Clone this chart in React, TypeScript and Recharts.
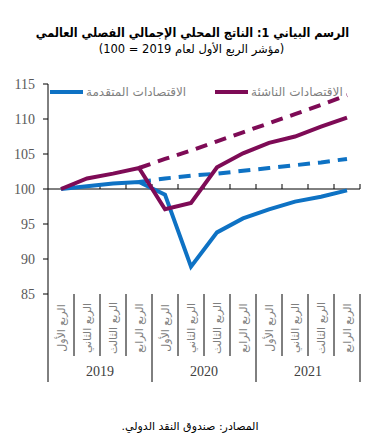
import React from 'react';
import { LineChart, Line, XAxis, YAxis, ReferenceLine } from 'recharts';

const years = ['2019', '2020', '2021'];
const quarters = ['الربع الأول', 'الربع الثاني', 'الربع الثالث', 'الربع الرابع'];
const advanced = [100, 100.4, 100.8, 101.0, 99.2, 88.9, 93.8, 95.8, 97.1, 98.2, 98.9, 99.8];
const emerging = [100, 101.5, 102.2, 103.0, 97.1, 98.0, 103.1, 105.1, 106.6, 107.5, 108.9, 110.2];
const advancedPre = [null, null, null, 101.0, 101.5, 101.9, 102.2, 102.6, 103.0, 103.4, 103.8, 104.3];
const emergingPre = [null, null, null, 103.0, 104.3, 105.5, 106.8, 108.1, 109.4, 110.7, 112.0, 113.4];
const yTicks = [85, 90, 95, 100, 105, 110, 115];

const title = 'الرسم البياني 1: الناتج المحلي الإجمالي الفصلي العالمي';
const subtitle = '(مؤشر الربع الأول لعام 2019 = 100)';
const legendAdvanced = 'الاقتصادات المتقدمة';
const legendEmerging = 'الاقتصادات الناشئة';
const source = 'المصادر: صندوق النقد الدولي.';

const BLUE = '#0E72C4';
const PURPLE = '#7E0B56';
const PAD = 13;

const data = advanced.map((v, i) => ({
  cat: `${years[Math.floor(i / 4)]}-${i % 4}`,
  quarter: quarters[i % 4],
  year: years[Math.floor(i / 4)],
  advanced: v,
  emerging: emerging[i],
  advancedPre: advancedPre[i],
  emergingPre: emergingPre[i],
}));

const QuarterTick = (props: any) => {
  const { x, y, index } = props;
  const row = data[index];
  if (!row) return null;
  const q = index % 4;
  return (
    <g>
      {index === 0 && <line x1={x - PAD} x2={x - PAD} y1={y} y2={y + 88} stroke="#000" strokeWidth={1} />}
      <line x1={x + PAD} x2={x + PAD} y1={y} y2={y + (q === 3 ? 88 : 62)} stroke="#000" strokeWidth={1} />
      <text
        x={x}
        y={y + 34}
        transform={`rotate(-90 ${x} ${y + 34})`}
        textAnchor="middle"
        dominantBaseline="central"
        fontSize={11}
        fill="#7f7f7f"
        fontFamily="DejaVu Sans"
      >
        {row.quarter}
      </text>
      {q === 1 && (
        <text x={x + PAD} y={y + 82} textAnchor="middle" fontSize={14} fill="#404040" fontFamily="Liberation Serif">
          {row.year}
        </text>
      )}
    </g>
  );
};

const AxisAt100 = (props: any) => {
  const { x1, x2, y1 } = props;
  const n = data.length;
  const step = (x2 - x1) / n;
  const ticks = [];
  for (let i = 1; i <= n; i++) {
    ticks.push(<line key={i} x1={x1 + step * i} x2={x1 + step * i} y1={y1} y2={y1 - 5} stroke="#000" strokeWidth={1} />);
  }
  return (
    <g>
      <line x1={x1} x2={x2} y1={y1} y2={y1} stroke="#000" strokeWidth={1} />
      {ticks}
    </g>
  );
};

export default function App() {
  return (
    <div style={{ position: 'absolute', left: 0, top: 0, width: 375, height: 448, background: '#fff' }}>
      <div
        style={{
          position: 'absolute', left: 0, top: 25, width: 385, textAlign: 'center', whiteSpace: 'nowrap',
          fontFamily: '"DejaVu Sans Condensed", "DejaVu Sans"', fontWeight: 'bold', fontSize: 12.5, color: '#000', direction: 'rtl',
        }}
      >
        {title}
      </div>
      <div
        style={{
          position: 'absolute', left: 0, top: 42, width: 383, textAlign: 'center', whiteSpace: 'nowrap',
          fontFamily: 'DejaVu Sans', fontSize: 11.5, color: '#000', direction: 'rtl',
        }}
      >
        {subtitle}
      </div>
      <LineChart
        width={375}
        height={448}
        data={data}
        margin={{ top: 84, right: 15, bottom: 54, left: 8 }}
        style={{ position: 'absolute', left: 0, top: 0 }}
      >
        <YAxis
          width={40}
          domain={[85, 115]}
          ticks={yTicks}
          interval={0}
          tickSize={5}
          tickMargin={8}
          axisLine={{ stroke: '#000' }}
          tickLine={{ stroke: '#000' }}
          tick={{ fontSize: 14, fill: '#595959', fontFamily: 'Liberation Serif' }}
        />
        <XAxis
          dataKey="cat"
          height={100}
          padding={{ left: PAD, right: PAD }}
          interval={0}
          tickSize={0}
          tickMargin={0}
          axisLine={false}
          tickLine={false}
          tick={<QuarterTick />}
        />
        <ReferenceLine y={100} shape={<AxisAt100 />} />
        <Line dataKey="advancedPre" stroke={BLUE} strokeWidth={4} strokeDasharray="12 8" dot={false} isAnimationActive={false} connectNulls={false} />
        <Line dataKey="emergingPre" stroke={PURPLE} strokeWidth={4} strokeDasharray="12 8" dot={false} isAnimationActive={false} connectNulls={false} />
        <Line dataKey="advanced" stroke={BLUE} strokeWidth={4} dot={false} isAnimationActive={false} />
        <Line dataKey="emerging" stroke={PURPLE} strokeWidth={4} dot={false} isAnimationActive={false} />
      </LineChart>
      <div style={{ position: 'absolute', left: 50, top: 85, display: 'flex', alignItems: 'center', direction: 'ltr' }}>
        <span style={{ display: 'inline-block', width: 33, height: 4, background: BLUE }} />
        <span style={{ marginLeft: 3, fontFamily: 'DejaVu Sans', fontSize: 12, color: '#7f7f7f', direction: 'rtl', whiteSpace: 'nowrap' }}>{legendAdvanced}</span>
      </div>
      <div style={{ position: 'absolute', left: 215, top: 85, display: 'flex', alignItems: 'center', direction: 'ltr' }}>
        <span style={{ display: 'inline-block', width: 33, height: 4, background: PURPLE }} />
        <span style={{ marginLeft: 3, fontFamily: 'DejaVu Sans', fontSize: 12, color: '#7f7f7f', direction: 'rtl', whiteSpace: 'nowrap' }}>{legendEmerging}</span>
      </div>
      <div
        style={{
          position: 'absolute', left: 0, top: 420, width: 380, textAlign: 'center', whiteSpace: 'nowrap',
          fontFamily: 'DejaVu Sans', fontSize: 11, color: '#000', direction: 'rtl',
        }}
      >
        {source}
      </div>
    </div>
  );
}
